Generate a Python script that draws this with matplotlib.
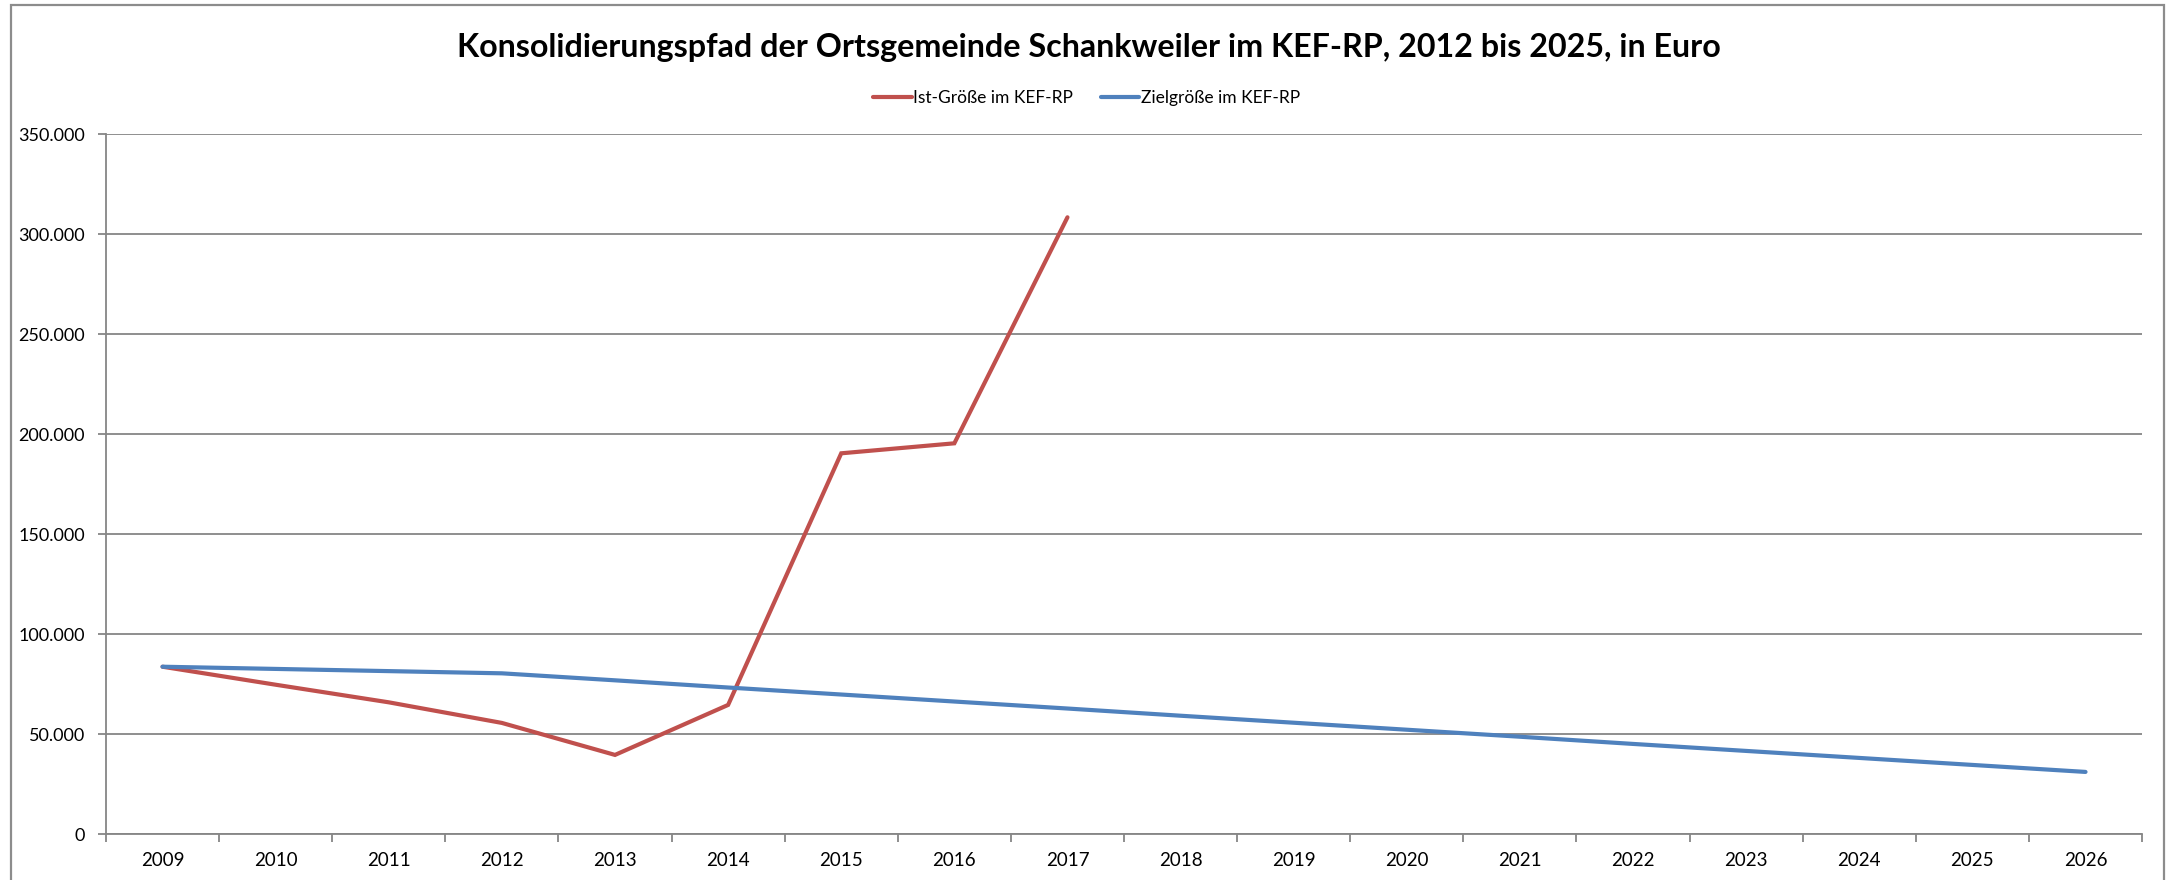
import matplotlib
matplotlib.use('Agg')
import matplotlib.pyplot as plt
from matplotlib.patches import Rectangle
from matplotlib.ticker import FuncFormatter, FixedLocator

# data
years = [str(y) for y in range(2009, 2027)]
ist_werte = [83800, 74800, 66000, 55700, 39700, 64700, 190500, 195500, 308500]
ziel_werte = [83800, 82700, 81600, 80500, 77000, 73400, 69900, 66400, 62900,
              59300, 55800, 52300, 48800, 45200, 41700, 38200, 34700, 31200]

title = 'Konsolidierungspfad der Ortsgemeinde Schankweiler im KEF-RP, 2012 bis 2025, in Euro'
label_ist = 'Ist-Größe im KEF-RP'
label_ziel = 'Zielgröße im KEF-RP'

red = '#C0504D'
blue = '#4F81BD'
grey = '#868686'

plt.rcParams['font.family'] = ['Lato', 'DejaVu Sans']

fig = plt.figure(figsize=(21.67, 8.8), dpi=100)
ax = fig.add_axes([0.0489, 0.0519, 0.9396, 0.7955])

x = list(range(len(years)))
ax.plot(x[:len(ist_werte)], ist_werte, color=red, lw=3, label=label_ist,
        solid_capstyle='round', solid_joinstyle='miter')
ax.plot(x, ziel_werte, color=blue, lw=3, label=label_ziel,
        solid_capstyle='round', solid_joinstyle='miter')

ax.set_xlim(-0.5, len(years) - 0.5)
ax.set_ylim(0, 350000)
ax.set_yticks(range(0, 350001, 50000))
ax.yaxis.set_major_formatter(FuncFormatter(lambda v, p: f'{int(v):,}'.replace(',', '.')))
ax.grid(axis='y', color=grey, lw=1.3)
ax.set_axisbelow(True)

ax.set_xticks(x)
ax.set_xticklabels(years)
ax.xaxis.set_minor_locator(FixedLocator([i - 0.5 for i in range(len(years) + 1)]))
ax.tick_params(axis='x', which='major', length=0, pad=13, labelsize=13.5)
ax.tick_params(axis='x', which='minor', length=6, color=grey, width=1.3, direction='out')
ax.tick_params(axis='y', length=6, color=grey, width=1.3, pad=9, labelsize=13)

for s in ['top', 'right']:
    ax.spines[s].set_visible(False)
for s in ['left', 'bottom']:
    ax.spines[s].set_color(grey)
    ax.spines[s].set_linewidth(1.3)

fig.text(0.5025, 0.946, title, ha='center', va='center', fontsize=23.2, fontweight='bold')

fig.legend(loc='center', bbox_to_anchor=(0.5015, 0.889), ncol=2, frameon=False,
           fontsize=12.5, handlelength=2.2, handletextpad=0.1, columnspacing=1.6)

# outer chart border
fig.patches.append(Rectangle((11 / 2167, -0.05), 2153 / 2167, 1.05 - 5.5 / 880,
                             transform=fig.transFigure, fill=False,
                             edgecolor='#8c8c8c', lw=1.6))

fig.savefig('out.png', dpi=100)
